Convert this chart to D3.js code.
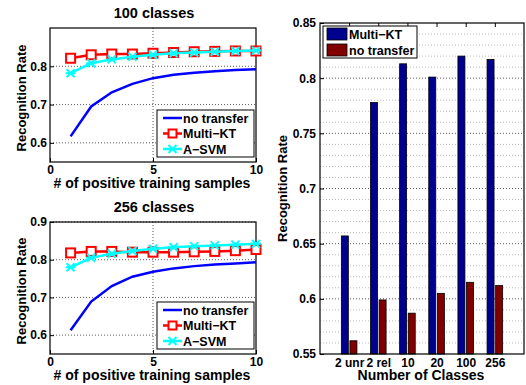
<!DOCTYPE html>
<html>
<head>
<meta charset="utf-8">
<script src="https://cdn.jsdelivr.net/npm/d3@7"></script>
<style>
  body { margin: 0; background: #fff; }
  svg { display: block; }
  svg text { font-family: "Liberation Sans", Arial, sans-serif; font-weight: bold; fill: #000; }
  .grid line { stroke: #333; stroke-dasharray: 1,2; stroke-width: 0.8; }
  .minor line { stroke: #aaa; stroke-dasharray: 1,2; stroke-width: 0.8; }
</style>
</head>
<body>
<div id="chart"></div>
<script>
const samples = [1, 2, 3, 4, 5, 6, 7, 8, 9, 10];

const noTransfer100 = [0.617, 0.695, 0.732, 0.754, 0.769, 0.778, 0.783, 0.787, 0.790, 0.792];
const multiKT100 = [0.821, 0.830, 0.832, 0.832, 0.834, 0.836, 0.838, 0.839, 0.840, 0.840];
const aSVM100 = [0.782, 0.808, 0.818, 0.825, 0.830, 0.834, 0.836, 0.838, 0.840, 0.841];

const noTransfer256 = [0.613, 0.689, 0.730, 0.755, 0.768, 0.777, 0.783, 0.787, 0.790, 0.793];
const multiKT256 = [0.818, 0.822, 0.822, 0.820, 0.820, 0.820, 0.821, 0.822, 0.824, 0.827];
const aSVM256 = [0.780, 0.805, 0.816, 0.823, 0.829, 0.833, 0.836, 0.838, 0.840, 0.842];

const classGroups = ['2 unr', '2 rel', '10', '20', '100', '256'];
const barMultiKT = [0.657, 0.778, 0.813, 0.801, 0.820, 0.817];
const barNoTransfer = [0.562, 0.599, 0.587, 0.605, 0.615, 0.612];

const W = 526, H = 385;
const FONT = '"Liberation Sans", Arial, sans-serif';
const svg = d3.select('#chart').append('svg').attr('width', W).attr('height', H);

function styleTicks(a, size) {
  a.attr('font-family', FONT);
  a.select('.domain').remove();
  a.selectAll('text').attr('font-size', size).attr('font-weight', 'bold').attr('fill', '#000');
}

function linePlot(cfg) {
  const { top, bottom, title, yMax, yTicks, series } = cfg;
  const left = 50, right = 256;
  const x = d3.scaleLinear().domain([0, 10]).range([left, right]);
  const y = d3.scaleLinear().domain([0.55, yMax]).range([bottom, top]);
  const g = svg.append('g');

  g.append('g').attr('class', 'grid')
    .selectAll('line').data(yTicks).join('line')
    .attr('x1', left).attr('x2', right)
    .attr('y1', (d) => y(d)).attr('y2', (d) => y(d));
  g.append('g').attr('class', 'grid')
    .append('line').attr('x1', x(5)).attr('x2', x(5)).attr('y1', top).attr('y2', bottom);

  g.append('g').attr('transform', `translate(0,${bottom})`)
    .call(d3.axisBottom(x).tickValues([0, 5, 10]).tickSizeInner(-4).tickSizeOuter(0).tickPadding(3))
    .call((a) => styleTicks(a, 12));
  g.append('g').attr('transform', `translate(${left},0)`)
    .call(d3.axisLeft(y).tickValues(yTicks).tickFormat(d3.format('.1f')).tickSizeInner(-4).tickSizeOuter(0).tickPadding(3))
    .call((a) => styleTicks(a, 12));

  g.append('rect').attr('x', left).attr('y', top).attr('width', right - left).attr('height', bottom - top)
    .attr('fill', 'none').attr('stroke', '#000').attr('stroke-width', 1.2);

  const line = d3.line().x((d, i) => x(samples[i])).y((d) => y(d));
  series.forEach((s) => {
    g.append('path').datum(s.values).attr('d', line)
      .attr('fill', 'none').attr('stroke', s.color).attr('stroke-width', 2.5);
    if (s.marker === 'square') {
      g.selectAll(null).data(s.values).join('rect')
        .attr('x', (d, i) => x(samples[i]) - 4.5).attr('y', (d) => y(d) - 4.5)
        .attr('width', 9).attr('height', 9)
        .attr('fill', '#fff').attr('stroke', s.color).attr('stroke-width', 2);
    } else if (s.marker === 'star') {
      g.selectAll(null).data(s.values).join('path')
        .attr('transform', (d, i) => `translate(${x(samples[i])},${y(d)})`)
        .attr('d', 'M-4,-4L4,4M-4,4L4,-4M-5,0L5,0')
        .attr('stroke', s.color).attr('stroke-width', 2);
    }
  });

  svg.append('text').attr('x', (left + right) / 2 + 1).attr('y', top - 10)
    .attr('text-anchor', 'middle').attr('font-size', 14.5).text(title);
  svg.append('text').attr('x', (left + right) / 2 - 1).attr('y', bottom + 26)
    .attr('text-anchor', 'middle').attr('font-size', 14).text('# of positive training samples');
  svg.append('text')
    .attr('transform', `translate(26,${(top + bottom) / 2 + 3}) rotate(-90)`)
    .attr('text-anchor', 'middle').attr('font-size', 13).text('Recognition Rate');

  // legend
  const lx = 157, ly = bottom - 52;
  const leg = svg.append('g');
  leg.append('rect').attr('x', lx).attr('y', ly).attr('width', 97).attr('height', 47)
    .attr('fill', '#fff').attr('stroke', '#000').attr('stroke-width', 1);
  series.forEach((s, i) => {
    const yy = ly + 8 + i * 15.5;
    leg.append('line').attr('x1', lx + 6).attr('x2', lx + 25).attr('y1', yy).attr('y2', yy)
      .attr('stroke', s.color).attr('stroke-width', 2.5);
    if (s.marker === 'square') {
      leg.append('rect').attr('x', lx + 15.5 - 4).attr('y', yy - 4).attr('width', 8).attr('height', 8)
        .attr('fill', '#fff').attr('stroke', s.color).attr('stroke-width', 2);
    } else if (s.marker === 'star') {
      leg.append('path').attr('transform', `translate(${lx + 15.5},${yy})`)
        .attr('d', 'M-4,-4L4,4M-4,4L4,-4M-5,0L5,0')
        .attr('stroke', s.color).attr('stroke-width', 2);
    }
    leg.append('text').attr('x', lx + 26).attr('y', yy + 4.5).attr('font-size', 12.5).text(s.name);
  });
}

linePlot({
  top: 28, bottom: 162, title: '100 classes', yMax: 0.9, yTicks: [0.6, 0.7, 0.8],
  series: [
    { name: 'no transfer', values: noTransfer100, color: '#0000ff', marker: null },
    { name: 'Multi\u2212KT', values: multiKT100, color: '#ff0000', marker: 'square' },
    { name: 'A\u2212SVM', values: aSVM100, color: '#00ffff', marker: 'star' },
  ],
});

linePlot({
  top: 222, bottom: 354, title: '256 classes', yMax: 0.9, yTicks: [0.6, 0.7, 0.8, 0.9],
  series: [
    { name: 'no transfer', values: noTransfer256, color: '#0000ff', marker: null },
    { name: 'Multi\u2212KT', values: multiKT256, color: '#ff0000', marker: 'square' },
    { name: 'A\u2212SVM', values: aSVM256, color: '#00ffff', marker: 'star' },
  ],
});

// bar chart
(function barPlot() {
  const left = 320, right = 524, top = 23, bottom = 354;
  const x = d3.scaleLinear().domain([0, 7]).range([left, right]);
  const y = d3.scaleLinear().domain([0.55, 0.85]).range([bottom, top]);
  const g = svg.append('g');
  const majors = [0.6, 0.65, 0.7, 0.75, 0.8];
  const minors = d3.range(56, 85).map((d) => d / 100).filter((d) => Math.round(d * 100) % 5 !== 0);

  g.append('g').attr('class', 'minor').selectAll('line').data(minors).join('line')
    .attr('x1', left).attr('x2', right).attr('y1', (d) => y(d)).attr('y2', (d) => y(d));
  g.append('g').attr('class', 'grid').selectAll('line').data(majors).join('line')
    .attr('x1', left).attr('x2', right).attr('y1', (d) => y(d)).attr('y2', (d) => y(d));

  const bw = 7, off = 4.3;
  g.selectAll('.b1').data(barMultiKT).join('rect').attr('class', 'b1')
    .attr('x', (d, i) => x(i + 1) - off - bw / 2).attr('y', (d) => y(d))
    .attr('width', bw).attr('height', (d) => bottom - y(d))
    .attr('fill', '#00008f').attr('stroke', '#000').attr('stroke-width', 0.8);
  g.selectAll('.b2').data(barNoTransfer).join('rect').attr('class', 'b2')
    .attr('x', (d, i) => x(i + 1) + off - bw / 2).attr('y', (d) => y(d))
    .attr('width', bw).attr('height', (d) => bottom - y(d))
    .attr('fill', '#800000').attr('stroke', '#000').attr('stroke-width', 0.8);

  g.append('g').attr('transform', `translate(0,${bottom})`)
    .call(d3.axisBottom(x).tickValues(d3.range(1, 7)).tickFormat((d) => classGroups[d - 1])
      .tickSizeInner(0).tickSizeOuter(0).tickPadding(4))
    .call((a) => styleTicks(a, 12));
  g.append('g').attr('transform', `translate(0,${top})`)
    .call(d3.axisBottom(x).tickValues(d3.range(1, 7)).tickFormat('').tickSizeInner(4).tickSizeOuter(0))
    .call((a) => a.select('.domain').remove());
  g.append('g').attr('transform', `translate(${left},0)`)
    .call(d3.axisLeft(y).tickValues([0.55, 0.6, 0.65, 0.7, 0.75, 0.8, 0.85]).tickFormat(d3.format('~g'))
      .tickSizeInner(-4).tickSizeOuter(0).tickPadding(4))
    .call((a) => styleTicks(a, 12));

  g.append('rect').attr('x', left).attr('y', top).attr('width', right - left).attr('height', bottom - top)
    .attr('fill', 'none').attr('stroke', '#000').attr('stroke-width', 1.2);

  svg.append('text').attr('x', 421).attr('y', bottom + 26)
    .attr('text-anchor', 'middle').attr('font-size', 14).text('Number of Classes');
  svg.append('text')
    .attr('transform', `translate(287,${(top + bottom) / 2}) rotate(-90)`)
    .attr('text-anchor', 'middle').attr('font-size', 13).text('Recognition Rate');

  const lx = 323, ly = 26;
  const leg = svg.append('g');
  leg.append('rect').attr('x', lx).attr('y', ly).attr('width', 94).attr('height', 32)
    .attr('fill', '#fff').attr('stroke', '#000').attr('stroke-width', 1);
  [['Multi\u2212KT', '#00008f'], ['no transfer', '#800000']].forEach(([name, c], i) => {
    const yy = ly + 8 + i * 16;
    leg.append('rect').attr('x', lx + 4).attr('y', yy - 6).attr('width', 20).attr('height', 12)
      .attr('fill', c).attr('stroke', '#000').attr('stroke-width', 0.8);
    leg.append('text').attr('x', lx + 26).attr('y', yy + 4.5).attr('font-size', 12.5).text(name);
  });
}());
</script>
</body>
</html>
